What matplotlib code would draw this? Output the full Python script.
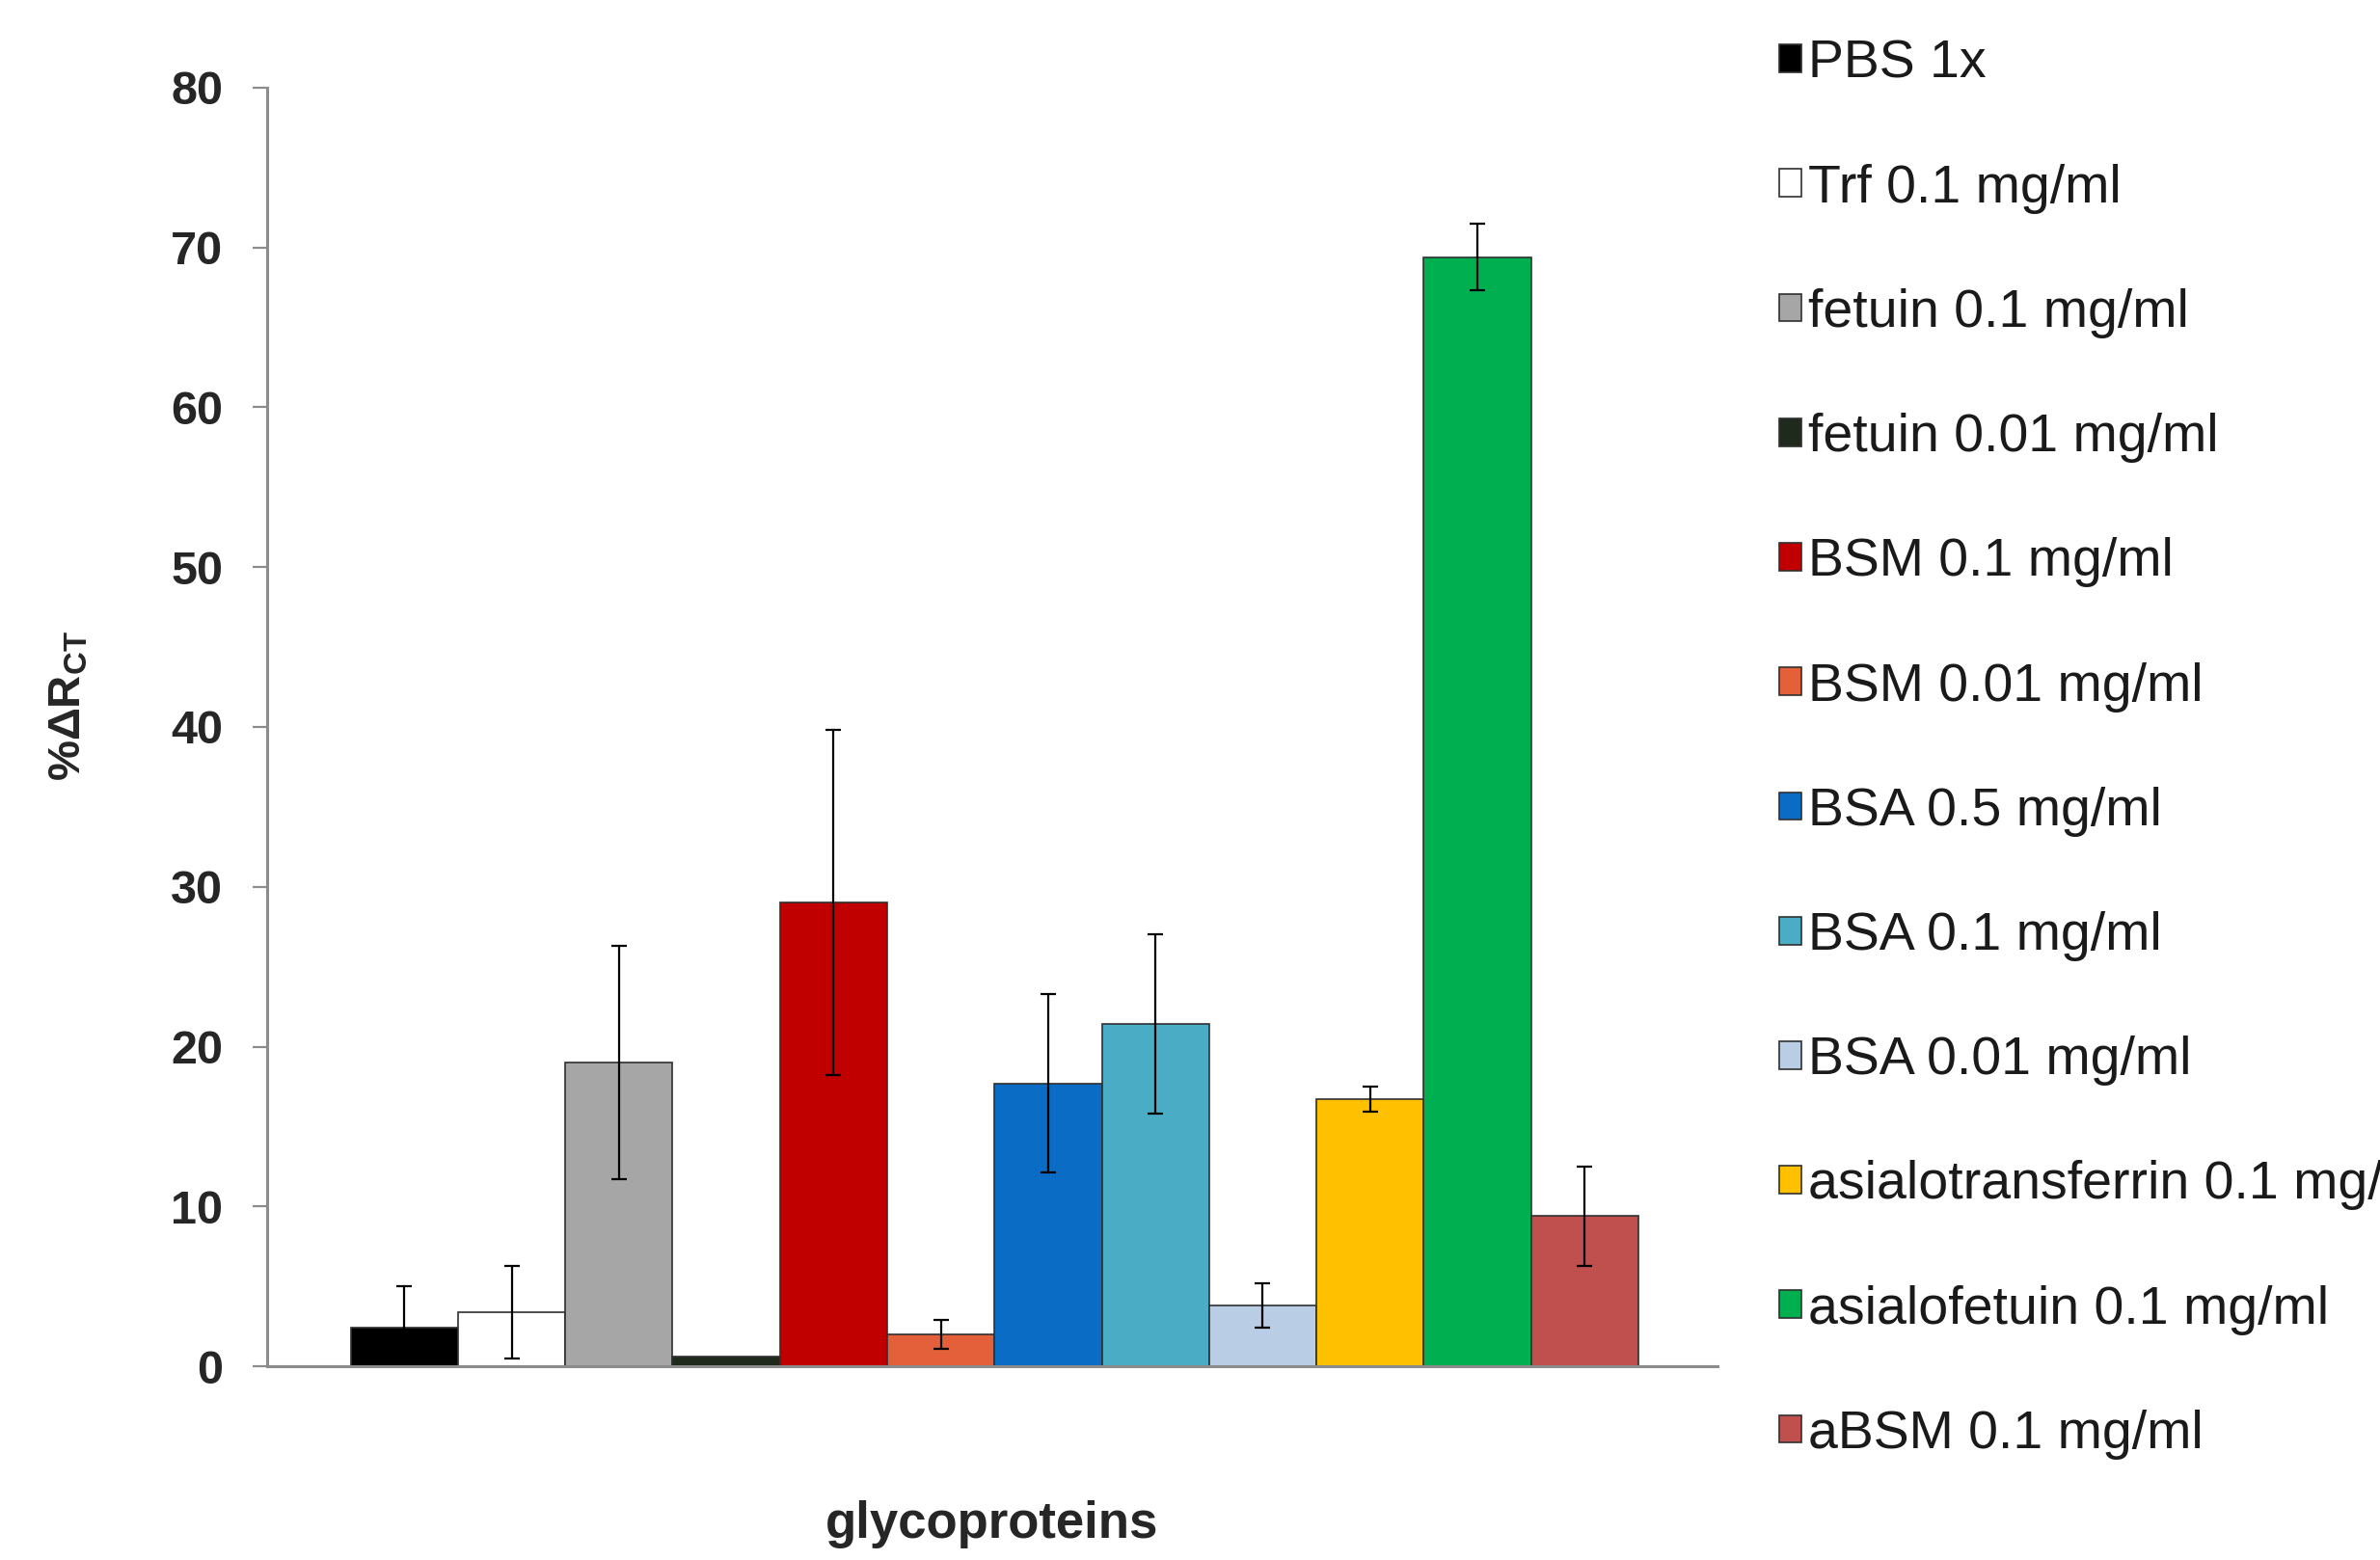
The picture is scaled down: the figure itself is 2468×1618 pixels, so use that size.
import matplotlib
matplotlib.use("Agg")
import matplotlib.pyplot as plt
import numpy as np

plt.rcParams['font.family'] = ['Liberation Sans', 'DejaVu Sans']
plt.rcParams['mathtext.fontset'] = 'custom'
plt.rcParams['mathtext.bf'] = 'Liberation Sans:bold'
plt.rcParams['mathtext.rm'] = 'Liberation Sans'

# samples, in drawing order
labels = ["PBS 1x", "Trf 0.1 mg/ml", "fetuin 0.1 mg/ml", "fetuin 0.01 mg/ml",
          "BSM 0.1 mg/ml", "BSM 0.01 mg/ml", "BSA 0.5 mg/ml", "BSA 0.1 mg/ml",
          "BSA 0.01 mg/ml", "asialotransferrin 0.1 mg/ml",
          "asialofetuin 0.1 mg/ml", "aBSM 0.1 mg/ml"]
values = [2.4, 3.4, 19.0, 0.6, 29.0, 2.0, 17.7, 21.4, 3.8, 16.7, 69.4, 9.4]
errors = [2.6, 2.9, 7.3, 0.0, 10.8, 0.9, 5.6, 5.6, 1.4, 0.8, 2.1, 3.1]
colors = ["#000000", "#FFFFFF", "#A6A6A6", "#1F2A1C", "#C00000", "#E4603A",
          "#0A6CC4", "#4BACC6", "#B9CDE5", "#FFC000", "#00B050", "#C0504D"]
yticks = [0, 10, 20, 30, 40, 50, 60, 70, 80]

fig = plt.figure(figsize=(24.68, 16.18), dpi=100)
ax = fig.add_axes([0.1122, 0.1242, 0.6095, 0.8196])

x = np.arange(len(values))
handles = []
for i in range(len(values)):
    b = ax.bar(x[i], values[i], width=1.0, color=colors[i], edgecolor="#303030",
               linewidth=1.2, label=labels[i])
    handles.append(b)
    if errors[i] > 0:
        ax.errorbar(x[i], values[i], yerr=errors[i], fmt="none", ecolor="black",
                    elinewidth=1.6, capsize=5.5, capthick=1.6)

ax.set_xlim(-1.28, 12.24)
ax.set_ylim(0, 80)
ax.set_yticks(yticks)
ax.set_xticks([])
for s in ["top", "right"]:
    ax.spines[s].set_visible(False)
for s in ["left", "bottom"]:
    ax.spines[s].set_color("#8C8C8C")
    ax.spines[s].set_linewidth(2.2)
ax.tick_params(axis="y", direction="out", length=11, width=1.6, color="#8C8C8C",
               pad=22, labelsize=35)
for t in ax.get_yticklabels():
    t.set_fontweight("bold")
    t.set_color("#262626")

ax.set_xlabel("glycoproteins", fontsize=38, fontweight="bold", color="#262626")
ax.xaxis.set_label_coords(0.5, -0.105)
ax.set_ylabel(r"$\mathbf{\%\Delta R_{CT}}$", fontsize=34, color="#262626")
ax.yaxis.set_label_coords(-0.122, 0.517)

leg = fig.legend(handles=handles, loc="upper left", bbox_to_anchor=(0.7476, 0.975),
                 frameon=False, prop={"size": 40},
                 labelspacing=1.39, handlelength=0.42, handleheight=0.42,
                 handletextpad=0.12, borderpad=0, borderaxespad=0)
for t in leg.get_texts():
    t.set_color("#1A1A1A")

fig.savefig("out.png", dpi=100)
